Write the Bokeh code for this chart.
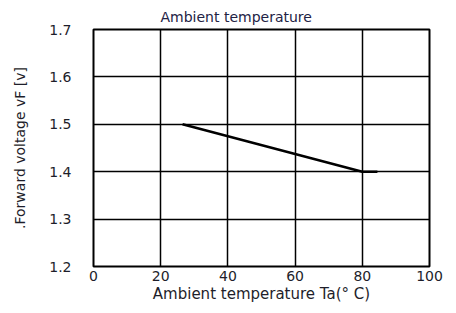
from bokeh.plotting import figure
from bokeh.models import Range1d, FixedTicker
from bokeh.embed import file_html
from bokeh.resources import INLINE

# data
temp = [26.5, 80, 84.5]
vf = [1.50, 1.40, 1.40]
x_ticks = [0, 20, 40, 60, 80, 100]
y_ticks = [1.2, 1.3, 1.4, 1.5, 1.6, 1.7]
title_text = "Ambient temperature"
x_label = "Ambient temperature Ta(° C)"
y_label = ".Forward voltage vF [v]"

FONT = "DejaVu Sans"
TXT = "#1e1e2a"

p = figure(width=448, height=305, output_backend="svg", toolbar_location=None,
           x_range=Range1d(0, 100), y_range=Range1d(1.2, 1.7),
           min_border_left=93, min_border_right=19, min_border_top=29, min_border_bottom=38)
p.background_fill_color = "white"
p.border_fill_color = "white"
p.outline_line_color = "black"
p.outline_line_width = 2

p.title.text = title_text
p.title.text_font = FONT
p.title.text_font_size = "14px"
p.title.text_font_style = "normal"
p.title.text_color = "#222244"
p.title.align = "left"
p.title.offset = 67
p.title.standoff = 10

p.line(temp, vf, line_color="black", line_width=2.5)

for ax, ticks in ((p.xaxis, x_ticks), (p.yaxis, y_ticks)):
    ax.ticker = FixedTicker(ticks=ticks)
    ax.axis_line_color = None
    ax.major_tick_line_color = None
    ax.minor_tick_line_color = None
    ax.major_label_text_font = FONT
    ax.major_label_text_font_size = "14px"
    ax.major_label_text_color = TXT
    ax.axis_label_text_font = FONT
    ax.axis_label_text_font_size = "14px"
    ax.axis_label_text_font_style = "normal"
    ax.axis_label_text_color = TXT

p.xaxis.axis_label = x_label
p.yaxis.axis_label = y_label
p.xaxis.axis_label_text_font_size = "15px"
p.xaxis.major_label_standoff = -2
p.yaxis.major_label_standoff = 16
p.xaxis.axis_label_standoff = 1
p.yaxis.axis_label_standoff = 18
p.xaxis.major_label_overrides = {t: str(t) for t in x_ticks}
p.yaxis.major_label_overrides = {t: f"{t:.1f}" for t in y_ticks}

for g in (p.xgrid, p.ygrid):
    g.grid_line_color = "black"
    g.grid_line_width = 1.5
    g.grid_line_alpha = 1.0
p.xgrid.ticker = FixedTicker(ticks=x_ticks)
p.ygrid.ticker = FixedTicker(ticks=y_ticks)

open("out.html", "w").write(file_html(p, INLINE))
